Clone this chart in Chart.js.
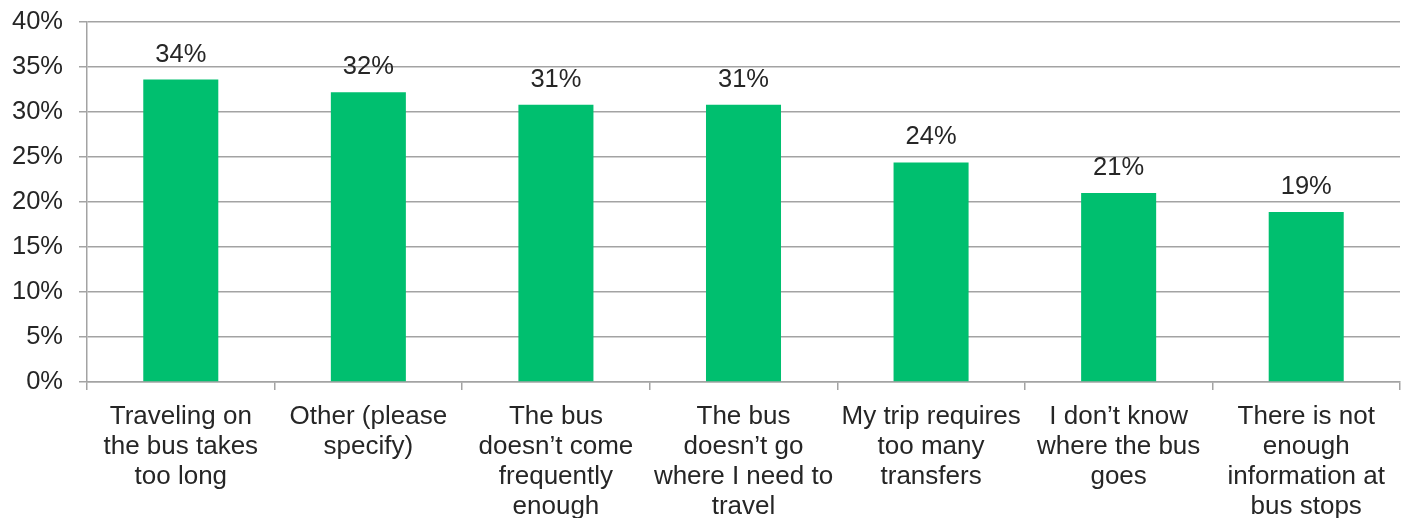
<!DOCTYPE html>
<html lang="en">
<head>
    <meta charset="UTF-8">
    <title>Reasons for not riding the bus</title>
    <script src="https://cdn.jsdelivr.net/npm/chart.js"></script>
    <style>
        html, body {
            margin: 0;
            padding: 0;
            background: #fff;
        }
        .chart-container {
            width: 1407px;
            height: 518px;
        }
    </style>
</head>
<body>
    <div class="chart-container">
        <canvas id="reasonChart" width="1407" height="518"></canvas>
    </div>

    <script>
        // category labels, already split into lines
        const reasons = [
            ['Traveling on', 'the bus takes', 'too long'],
            ['Other (please', 'specify)'],
            ['The bus', 'doesn\u2019t come', 'frequently', 'enough'],
            ['The bus', 'doesn\u2019t go', 'where I need to', 'travel'],
            ['My trip requires', 'too many', 'transfers'],
            ['I don\u2019t know', 'where the bus', 'goes'],
            ['There is not', 'enough', 'information at', 'bus stops']
        ];
        const shares = [33.6, 32.2, 30.8, 30.8, 24.4, 21.0, 18.9];
        const yTicks = [0, 5, 10, 15, 20, 25, 30, 35, 40];

        const textColor = '#262626';
        const gridColor = '#a3a3a3';
        const fontFamily = '"Liberation Sans", Arial, sans-serif';

        // percentage labels above each bar
        const barLabels = {
            id: 'barLabels',
            afterDatasetsDraw(chart) {
                const ctx = chart.ctx;
                const meta = chart.getDatasetMeta(0);
                ctx.save();
                ctx.font = '25.5px ' + fontFamily;
                ctx.fillStyle = textColor;
                ctx.textAlign = 'center';
                ctx.textBaseline = 'alphabetic';
                meta.data.forEach((bar, i) => {
                    ctx.fillText(Math.round(shares[i]) + '%', bar.x, bar.y - 18);
                });
                ctx.restore();
            }
        };

        // multi-line category names under the axis, 30px apart
        const categoryLabels = {
            id: 'categoryLabels',
            afterDraw(chart) {
                const ctx = chart.ctx;
                const xScale = chart.scales.x;
                const firstBaseline = xScale.top + 42;
                ctx.save();
                ctx.font = '26px ' + fontFamily;
                ctx.fillStyle = textColor;
                ctx.textAlign = 'center';
                ctx.textBaseline = 'alphabetic';
                reasons.forEach((lines, i) => {
                    const x = xScale.getPixelForTick(i);
                    lines.forEach((line, j) => {
                        ctx.fillText(line, x, firstBaseline + j * 30);
                    });
                });
                ctx.restore();
            }
        };

        const ctx = document.getElementById('reasonChart').getContext('2d');
        new Chart(ctx, {
            type: 'bar',
            data: {
                labels: reasons,
                datasets: [{
                    data: shares,
                    backgroundColor: '#00bf6f',
                    borderWidth: 0,
                    categoryPercentage: 1,
                    barPercentage: 0.4
                }]
            },
            options: {
                responsive: false,
                animation: false,
                layout: {
                    padding: { top: 22, right: 7, left: 0, bottom: 0 }
                },
                scales: {
                    y: {
                        min: 0,
                        max: 40,
                        afterBuildTicks(axis) {
                            axis.ticks = yTicks.map(v => ({ value: v }));
                        },
                        afterFit(axis) {
                            axis.width = 87;
                            axis.paddingTop = 0;
                            axis.paddingBottom = 0;
                        },
                        border: { color: gridColor, width: 1.5 },
                        grid: {
                            color: gridColor,
                            lineWidth: 1.5,
                            tickLength: 8
                        },
                        ticks: {
                            color: textColor,
                            padding: 16,
                            font: { family: fontFamily, size: 25.5 },
                            callback: v => v + '%'
                        }
                    },
                    x: {
                        afterFit(axis) {
                            axis.height = 136;
                            axis.paddingLeft = 0;
                            axis.paddingRight = 0;
                        },
                        border: { color: gridColor, width: 1.5 },
                        grid: {
                            color: gridColor,
                            lineWidth: 1.5,
                            drawOnChartArea: false,
                            tickLength: 8
                        },
                        ticks: {
                            // text is drawn by categoryLabels
                            color: 'rgba(0,0,0,0)',
                            padding: 10,
                            maxRotation: 0,
                            autoSkip: false,
                            font: { family: fontFamily, size: 26, lineHeight: 1.15 }
                        }
                    }
                },
                plugins: {
                    legend: { display: false },
                    tooltip: { enabled: false }
                }
            },
            plugins: [barLabels, categoryLabels]
        });
    </script>
</body>
</html>
